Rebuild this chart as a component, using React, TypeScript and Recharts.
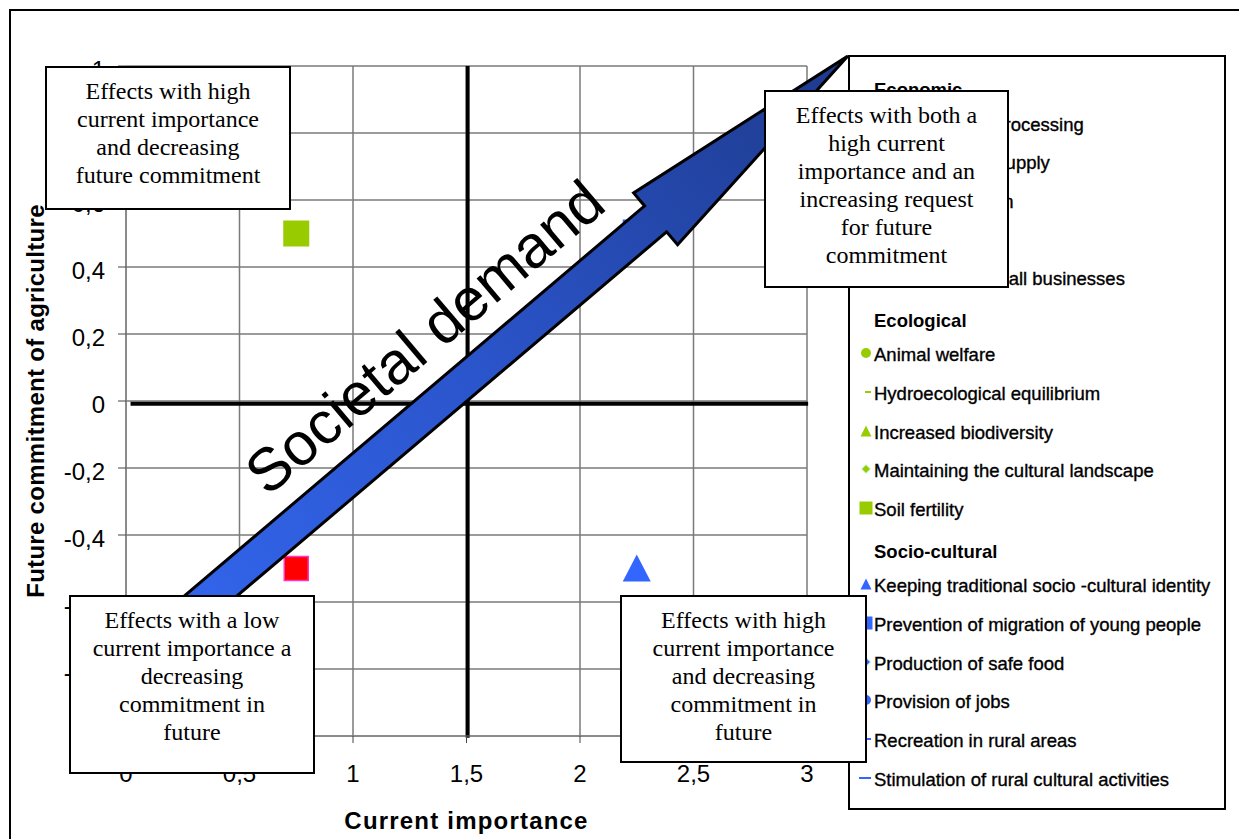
import React from 'react';
import { ScatterChart, Scatter, XAxis, YAxis, CartesianGrid, ReferenceLine, Label } from 'recharts';

// axis ticks
const xTicks = [0, 0.5, 1, 1.5, 2, 2.5, 3];
const yTicks = [-1, -0.8, -0.6, -0.4, -0.2, 0, 0.2, 0.4, 0.6, 0.8, 1];

// effects: current importance (x) / future commitment (y)
const economicEffect = [{ x: 0.75, y: -0.5 }];
const soilFertility = [{ x: 0.75, y: 0.5 }];
const keepingIdentity = [{ x: 2.25, y: -0.5 }];
const preventionMigration = [{ x: 2.25, y: 0.5 }];

// quadrant cross + societal demand arrow (data units)
const crossH = [{ x: 0.02, y: -0.008 }, { x: 3.005, y: -0.008 }];
const crossV = [{ x: 1.505, y: 1 }, { x: 1.505, y: -1.005 }];
const demandArrow = [{ x: 0.15, y: -0.71 }, { x: 3.18, y: 1.03 }];

const economicItems = ['Farm produce processing', 'Raw materials supply', 'Wood production', 'Farm income', 'Promotion of small businesses'];
const ecologicalItems = ['Animal welfare', 'Hydroecological equilibrium', 'Increased biodiversity', 'Maintaining the cultural landscape', 'Soil fertility'];
const ecologicalMarks = ['circle', 'dash', 'triangle', 'diamond', 'square'];
const socioItems = ['Keeping traditional socio -cultural identity', 'Prevention of migration of young people', 'Production of safe food', 'Provision of jobs', 'Recreation in rural areas', 'Stimulation of rural cultural activities'];
const socioMarks = ['triangle', 'square', 'diamond', 'circle', 'longdash', 'longdash'];

const GREEN = '#99CC00';
const BLUE = '#3366FF';
const RED = '#FF0000';
const SANS = '"Liberation Sans", Arial, Helvetica, sans-serif';
const SERIF = '"Liberation Serif", "Times New Roman", serif';

const fmt = (v: number) => String(v).replace('.', ',');

const squareShape = (fill: string, size: number, stroke?: string) => (p: any) => (
  <rect x={p.cx - size / 2} y={p.cy - size / 2} width={size} height={size} fill={fill}
    stroke={stroke || 'none'} strokeWidth={stroke ? 1.5 : 0} />
);

const triangleShape = (fill: string) => (p: any) => (
  <polygon points={`${p.cx},${p.cy - 14} ${p.cx + 14},${p.cy + 13} ${p.cx - 14},${p.cy + 13}`} fill={fill} />
);

const ArrowShape = (props: any) => {
  const { x1, y1, x2, y2 } = props;
  const dx = x2 - x1;
  const dy = y2 - y1;
  const len = Math.hypot(dx, dy);
  const ux = dx / len, uy = dy / len;
  const nx = uy, ny = -ux;
  const w = 17, hw = 34, hl = 252;
  const P = (a: number, b: number) => `${x1 + ux * a + nx * b},${y1 + uy * a + ny * b}`;
  const pts = [P(0, w), P(len - hl, w), P(len - hl, hw), P(len, 0), P(len - hl, -hw), P(len - hl, -w), P(0, -w)].join(' ');
  const ang = (Math.atan2(dy, dx) * 180) / Math.PI;
  const tx = x1 + ux * 397 + nx * 59;
  const ty = y1 + uy * 397 + ny * 59;
  return (
    <g>
      <defs>
        <linearGradient id="demandGrad" gradientUnits="userSpaceOnUse" x1={x1} y1={y1} x2={x2} y2={y2}>
          <stop offset="0" stopColor="#3366EE" />
          <stop offset="0.45" stopColor="#2B55CC" />
          <stop offset="1" stopColor="#1E3A8C" />
        </linearGradient>
      </defs>
      <polygon points={pts} fill="url(#demandGrad)" stroke="#000" strokeWidth={3} strokeLinejoin="miter" />
      <text x={tx} y={ty} transform={`rotate(${ang}, ${tx}, ${ty})`} textAnchor="middle" dominantBaseline="central"
        fontFamily={SANS} fontSize={60} fill="#000">Societal demand</text>
    </g>
  );
};

const LegendMark = ({ kind, color, cy }: { kind: string; color: string; cy: number }) => {
  let el: React.ReactNode = null;
  if (kind === 'circle') el = <circle cx={8} cy={8} r={5} fill={color} />;
  if (kind === 'triangle') el = <polygon points="8,2.5 13.5,13.5 2.5,13.5" fill={color} />;
  if (kind === 'diamond') el = <polygon points="8,3.5 12.5,8 8,12.5 3.5,8" fill={color} stroke="#ccffee" strokeWidth={1} />;
  if (kind === 'square') el = <rect x={1.5} y={1.5} width={13} height={13} fill={color} />;
  if (kind === 'dash') el = <rect x={7} y={7} width={6} height={2} fill={color} />;
  if (kind === 'longdash') el = <rect x={1} y={7} width={12} height={2} fill={color} />;
  return (
    <svg width={16} height={16} style={{ position: 'absolute', left: 858, top: cy - 10 }}>{el}</svg>
  );
};

const LegendBox = () => {
  const rows: React.ReactNode[] = [];
  let y = 90;
  const heading = (t: string) => {
    rows.push(<div key={t} style={{ position: 'absolute', left: 874, top: y - 11, fontWeight: 'bold', WebkitTextStroke: '0px' }}>{t}</div>);
    y += 34.5;
  };
  const item = (t: string, kind: string, color: string, last: boolean) => {
    rows.push(<LegendMark key={t + 'm'} kind={kind} color={color} cy={y} />);
    rows.push(<div key={t} style={{ position: 'absolute', left: 874, top: y - 11 }}>{t}</div>);
    y += last ? 41.5 : 38.7;
  };
  heading('Economic');
  economicItems.forEach((t, i) => item(t, 'square', RED, i === economicItems.length - 1));
  heading('Ecological');
  ecologicalItems.forEach((t, i) => item(t, ecologicalMarks[i], GREEN, i === ecologicalItems.length - 1));
  heading('Socio-cultural');
  socioItems.forEach((t, i) => item(t, socioMarks[i], BLUE, i === socioItems.length - 1));
  return (
    <>
      <div style={{ position: 'absolute', left: 848, top: 55, width: 378, height: 755, border: '2px solid #000', background: '#fff', boxSizing: 'border-box' }} />
      <div style={{ position: 'absolute', left: 0, top: 0, fontFamily: SANS, fontSize: 18.5, lineHeight: '22px', whiteSpace: 'nowrap', color: '#000', WebkitTextStroke: '0.35px #000' }}>
        {rows}
      </div>
    </>
  );
};

const Note = ({ left, top, width, height, lines }: { left: number; top: number; width: number; height: number; lines: string[] }) => (
  <div style={{
    position: 'absolute', left, top, width, height, border: '2px solid #000', background: '#fff',
    boxSizing: 'border-box', textAlign: 'center', paddingTop: 9, fontFamily: SERIF, fontSize: 24,
    lineHeight: '28px', color: '#000', whiteSpace: 'nowrap',
  }}>
    {lines.map((l) => <div key={l}>{l}</div>)}
  </div>
);

export default function App() {
  return (
    <div style={{ position: 'absolute', left: 0, top: 0, width: 1239, height: 839, overflow: 'hidden', background: '#fff' }}>
      <div style={{ position: 'absolute', left: 9, top: 9, width: 1300, height: 900, border: '2px solid #000' }} />
      <div style={{ position: 'absolute', left: 0, top: 0 }}>
        <ScatterChart width={1239} height={839} margin={{ top: 66, right: 432, bottom: 0, left: 10 }}>
          <CartesianGrid stroke="#7a7a7a" strokeWidth={1.5} />
          <XAxis type="number" dataKey="x" domain={[0, 3]} ticks={xTicks} interval={0} tickFormatter={fmt}
            height={103} tickSize={7} tickMargin={22} stroke="#7a7a7a"
            tickLine={{ stroke: '#444' }} tick={{ fontSize: 24, fill: '#000', fontFamily: SANS }}>
            <Label value="Current importance" position="insideBottom" offset={10} fontSize={24}
              fontWeight="bold" fill="#000" fontFamily={SANS} style={{ letterSpacing: '1.2px' }} />
          </XAxis>
          <YAxis type="number" dataKey="y" domain={[-1, 1]} ticks={yTicks} interval={0} tickFormatter={fmt}
            width={116} tickSize={8} tickMargin={13} stroke="#7a7a7a"
            tickLine={{ stroke: '#444' }} tick={{ fontSize: 24, fill: '#000', fontFamily: SANS, dy: 3 }}>
            <Label value="Future commitment of agriculture" position="insideLeft" offset={25} angle={-90}
              fontSize={24} fontWeight="bold" fill="#000" fontFamily={SANS}
              style={{ textAnchor: 'middle', letterSpacing: '0.3px' }} />
          </YAxis>
          <ReferenceLine segment={crossH} stroke="#000" strokeWidth={4} ifOverflow="visible" />
          <ReferenceLine segment={crossV} stroke="#000" strokeWidth={4} ifOverflow="visible" />
          <Scatter name="Economic" data={economicEffect} isAnimationActive={false} shape={squareShape(RED, 24, '#FF33CC')} />
          <Scatter name="Soil fertility" data={soilFertility} isAnimationActive={false} shape={squareShape(GREEN, 26)} />
          <Scatter name="Keeping traditional socio-cultural identity" data={keepingIdentity} isAnimationActive={false} shape={triangleShape(BLUE)} />
          <Scatter name="Prevention of migration of young people" data={preventionMigration} isAnimationActive={false} shape={squareShape(BLUE, 28)} />
          <ReferenceLine segment={demandArrow} ifOverflow="visible" shape={ArrowShape} {...({ zIndex: 900 } as any)} />
        </ScatterChart>
      </div>
      <LegendBox />
      <Note left={45} top={66} width={246} height={144}
        lines={['Effects with high', 'current importance', 'and decreasing', 'future commitment']} />
      <Note left={764} top={90} width={245} height={198}
        lines={['Effects with both a', 'high current', 'importance and an', 'increasing request', 'for future', 'commitment']} />
      <Note left={69} top={595} width={246} height={179}
        lines={['Effects with a low', 'current importance a', 'decreasing', 'commitment in', 'future']} />
      <Note left={620} top={595} width={247} height={168}
        lines={['Effects with high', 'current importance', 'and decreasing', 'commitment in', 'future']} />
    </div>
  );
}
